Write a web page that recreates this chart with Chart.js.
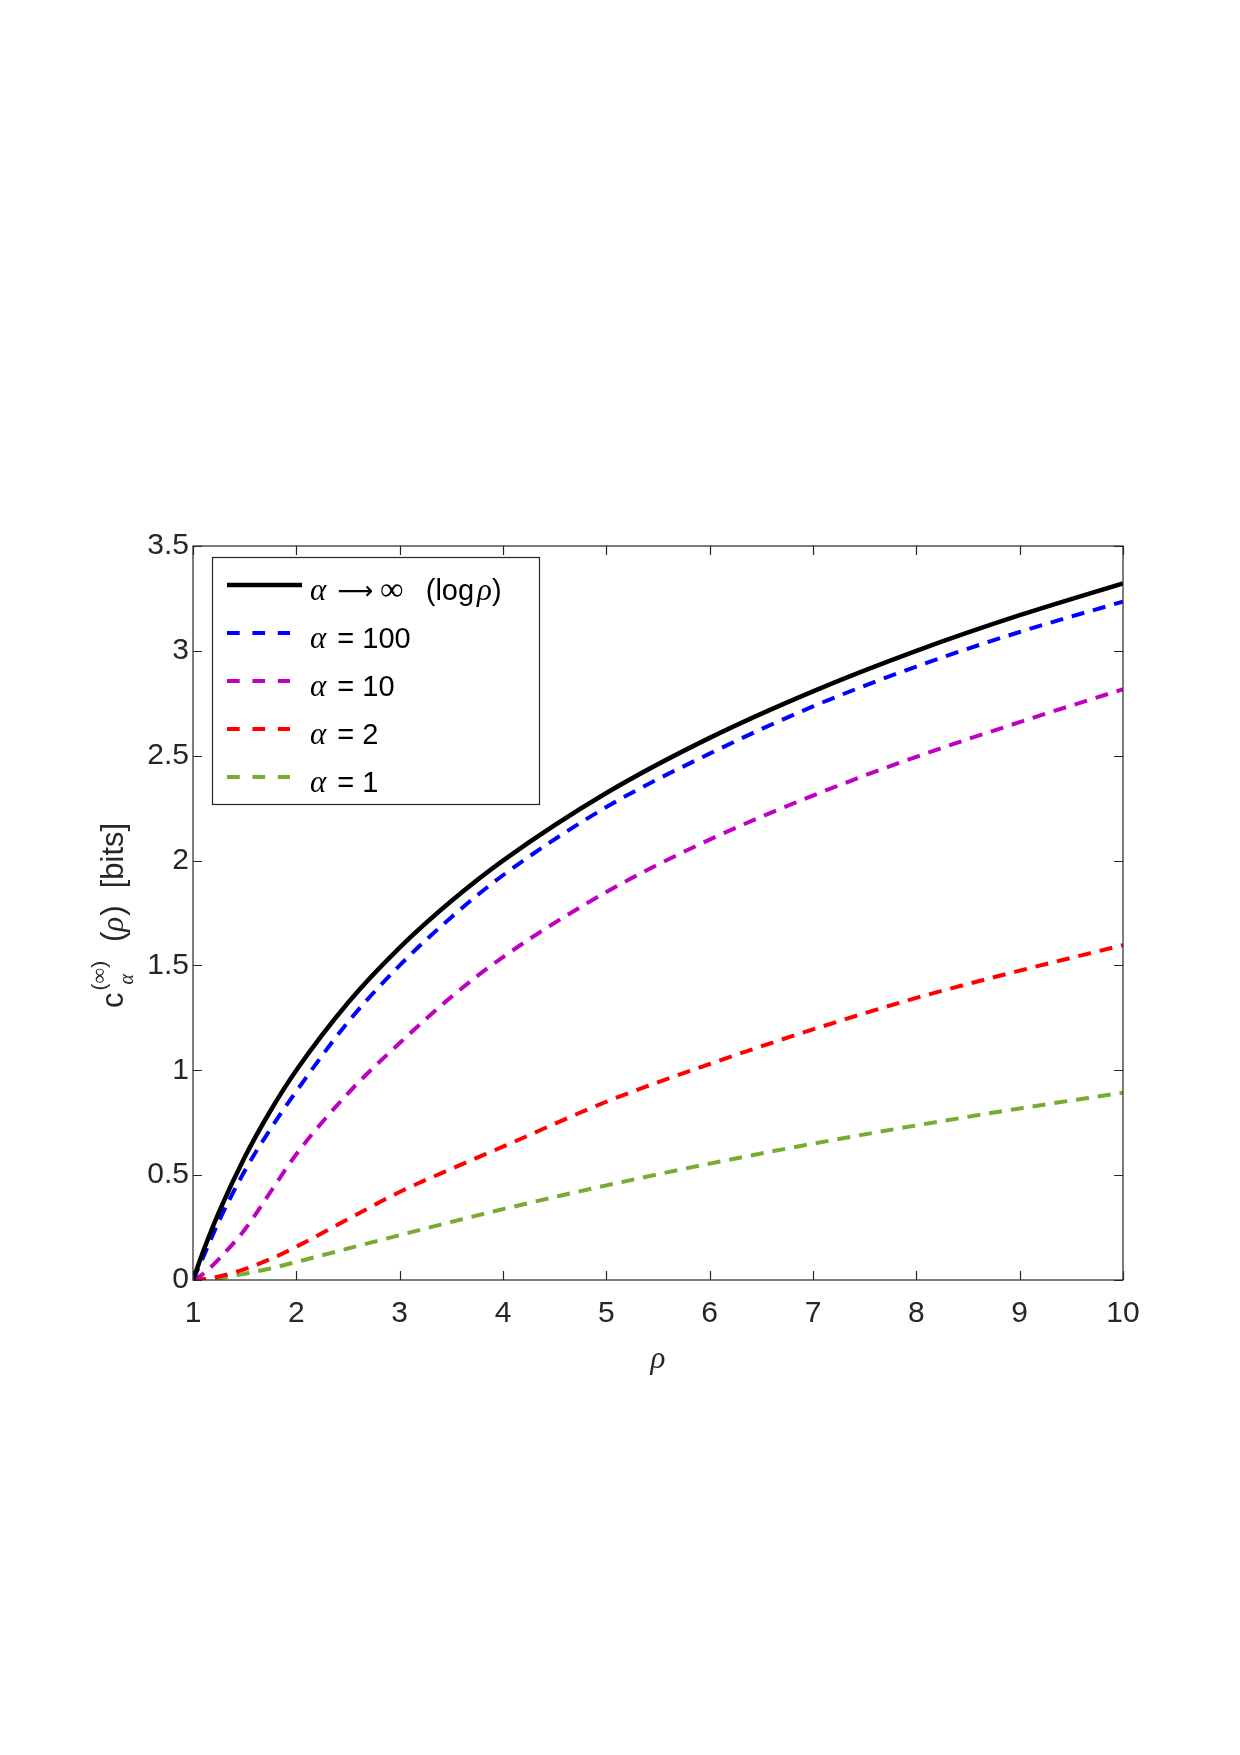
<!DOCTYPE html>
<html>
<head>
<meta charset="utf-8">
<script src="https://cdn.jsdelivr.net/npm/chart.js@4.4.0/dist/chart.umd.min.js"></script>
<style>
  html, body { margin: 0; padding: 0; background: #fff; }
  #wrap { width: 1240px; height: 1755px; }
</style>
</head>
<body>
<div id="wrap"><canvas id="chart" width="1240" height="1755"></canvas></div>
<script>
// rho grid and curve values
const rho       = [1, 1.1, 1.25, 1.5, 1.75, 2, 2.5, 3, 3.5, 4, 5, 6, 7, 8, 9, 10];
const alphaInf  = [0, 0.1375, 0.322, 0.585, 0.807, 1.0, 1.322, 1.585, 1.807, 2.0, 2.322, 2.585, 2.807, 3.0, 3.17, 3.322];
const alpha100  = [0, 0.11, 0.28, 0.52, 0.72, 0.90, 1.23, 1.50, 1.73, 1.93, 2.255, 2.51, 2.735, 2.925, 3.09, 3.235];
const alpha10   = [0, 0.03, 0.10, 0.24, 0.42, 0.60, 0.89, 1.13, 1.35, 1.54, 1.85, 2.10, 2.31, 2.495, 2.66, 2.817];
const alpha2    = [0, 0.005, 0.017, 0.052, 0.10, 0.159, 0.29, 0.42, 0.53, 0.636, 0.85, 1.03, 1.195, 1.345, 1.475, 1.597];
const alpha1    = [0, 0.002, 0.009, 0.03, 0.055, 0.086, 0.15, 0.214, 0.277, 0.338, 0.451, 0.555, 0.65, 0.737, 0.818, 0.893];
const xTicks = [1, 2, 3, 4, 5, 6, 7, 8, 9, 10];
const yTicks = [0, 0.5, 1, 1.5, 2, 2.5, 3, 3.5];

const SANS = '"Liberation Sans", Arial, Helvetica, sans-serif';
const SERIF = '"Liberation Serif", "DejaVu Serif", serif';
const AX = '#262626';

const pts = (ys) => rho.map((x, i) => ({x, y: ys[i]}));
const DASH = [13, 9];

const series = [
  { label: 'inf', data: alphaInf, color: '#000000', dash: [], width: 4.5 },
  { label: '100', data: alpha100, color: '#0000ff', dash: DASH, width: 4 },
  { label: '10',  data: alpha10,  color: '#c000c0', dash: DASH, width: 4 },
  { label: '2',   data: alpha2,   color: '#ff0000', dash: DASH, width: 4 },
  { label: '1',   data: alpha1,   color: '#77ac30', dash: DASH, width: 4 },
];

function drawParts(ctx, parts, x, y) {
  let cx = x;
  parts.forEach(p => {
    ctx.font = p.f;
    ctx.fillText(p.t, cx, y + (p.dy || 0));
    cx += ctx.measureText(p.t).width + (p.sp || 0);
  });
  return cx;
}

// box + inward ticks, like the matlab axes
const frame = {
  id: 'frame',
  afterDatasetsDraw(chart) {
    const {ctx, chartArea: a, scales: {x, y}} = chart;
    ctx.save();
    ctx.strokeStyle = AX;
    ctx.lineWidth = 1.2;
    ctx.strokeRect(a.left, a.top, a.right - a.left, a.bottom - a.top);
    const L = 9;
    ctx.beginPath();
    xTicks.forEach(v => {
      const px = Math.round(x.getPixelForValue(v)) + 0.5;
      ctx.moveTo(px, a.bottom); ctx.lineTo(px, a.bottom - L);
      ctx.moveTo(px, a.top); ctx.lineTo(px, a.top + L);
    });
    yTicks.forEach(v => {
      const py = Math.round(y.getPixelForValue(v)) + 0.5;
      ctx.moveTo(a.left, py); ctx.lineTo(a.left + L, py);
      ctx.moveTo(a.right, py); ctx.lineTo(a.right - L, py);
    });
    ctx.stroke();
    ctx.restore();
  }
};

const legendBox = {
  id: 'legendBox',
  afterDraw(chart) {
    const ctx = chart.ctx;
    ctx.save();
    const bx = 212, by = 557, bw = 327, bh = 247;
    ctx.fillStyle = '#fff';
    ctx.fillRect(bx, by, bw, bh);
    ctx.strokeStyle = AX;
    ctx.lineWidth = 1.2;
    ctx.strokeRect(bx + 0.5, by + 0.5, bw, bh);
    const F = '29px ' + SANS, A = 'italic 31px ' + SERIF;
    const texts = [
      [{t: 'α', f: A, sp: 11}, {t: '⟶', f: '25px "DejaVu Sans", sans-serif', sp: 7, dy: -1}, {t: '∞', f: '33px ' + SERIF, sp: 6}, {t: '  (log', f: F, sp: 3}, {t: 'ρ', f: A}, {t: ')', f: F}],
      [{t: 'α', f: A, sp: 3}, {t: ' = 100', f: F}],
      [{t: 'α', f: A, sp: 3}, {t: ' = 10', f: F}],
      [{t: 'α', f: A, sp: 3}, {t: ' = 2', f: F}],
      [{t: 'α', f: A, sp: 3}, {t: ' = 1', f: F}],
    ];
    chart.data.datasets.forEach((ds, i) => {
      const ly = 585 + 48 * i;
      const dashed = (ds.borderDash || []).length > 0;
      ctx.strokeStyle = ds.borderColor;
      ctx.lineWidth = ds.borderWidth;
      ctx.setLineDash(dashed ? [12.7, 12.7] : []);
      ctx.beginPath();
      ctx.moveTo(227, ly); ctx.lineTo(dashed ? 290 : 302, ly);
      ctx.stroke();
      ctx.setLineDash([]);
      ctx.fillStyle = '#000';
      ctx.textBaseline = 'alphabetic';
      drawParts(ctx, texts[i], 310, ly + 15);
    });
    ctx.restore();
  }
};

const axisTitles = {
  id: 'axisTitles',
  afterDraw(chart) {
    const ctx = chart.ctx;
    ctx.save();
    ctx.fillStyle = AX;
    ctx.textBaseline = 'alphabetic';
    // x title
    ctx.font = 'italic 31px ' + SERIF;
    ctx.textAlign = 'center';
    ctx.fillText('ρ', 658, 1368);
    // y title, rotated (reads bottom to top)
    ctx.textAlign = 'left';
    ctx.translate(123, 1008);
    ctx.rotate(-Math.PI / 2);
    ctx.font = '31px ' + SANS;
    ctx.fillText('c', 0, 0);
    const u0 = ctx.measureText('c').width + 2;
    ctx.font = 'italic 20px ' + SERIF;
    ctx.fillText('α', u0 + 6, 10);
    drawParts(ctx, [{t: '(', f: '21px ' + SANS}, {t: '∞', f: '22px ' + SERIF}, {t: ')', f: '21px ' + SANS}], u0, -17);
    let u = drawParts(ctx, [{t: '(', f: '31px ' + SANS}, {t: 'ρ', f: 'italic 31px ' + SERIF, sp: 1}, {t: ')', f: '31px ' + SANS}], 66, 0);
    ctx.font = '31px ' + SANS;
    ctx.fillText('  [bits]', u, 0);
    ctx.restore();
  }
};

new Chart(document.getElementById('chart'), {
  type: 'line',
  data: {
    datasets: series.map(s => ({
      label: s.label,
      data: pts(s.data),
      borderColor: s.color,
      borderWidth: s.width,
      borderDash: s.dash,
      pointRadius: 0,
      fill: false,
      cubicInterpolationMode: 'monotone',
    }))
  },
  options: {
    responsive: false,
    animation: false,
    devicePixelRatio: 1,
    layout: { padding: { left: 0, right: 117, top: 546, bottom: 0 } },
    plugins: { legend: { display: false }, tooltip: { enabled: false } },
    scales: {
      x: {
        type: 'linear', min: 1, max: 10,
        afterFit: (s) => { s.height = 475; },
        afterBuildTicks: (s) => { s.ticks = xTicks.map(v => ({value: v})); },
        grid: { display: false, drawTicks: false }, border: { display: false },
        ticks: { color: AX, font: { family: SANS, size: 30 }, padding: 16, maxRotation: 0,
                 callback: (v) => String(v) }
      },
      y: {
        type: 'linear', min: 0, max: 3.5,
        afterFit: (s) => { s.width = 193; },
        afterBuildTicks: (s) => { s.ticks = yTicks.map(v => ({value: v})); },
        grid: { display: false, drawTicks: false }, border: { display: false },
        ticks: { color: AX, font: { family: SANS, size: 30 }, padding: 4,
                 callback: (v) => String(v) }
      }
    }
  },
  plugins: [frame, legendBox, axisTitles]
});
</script>
</body>
</html>
